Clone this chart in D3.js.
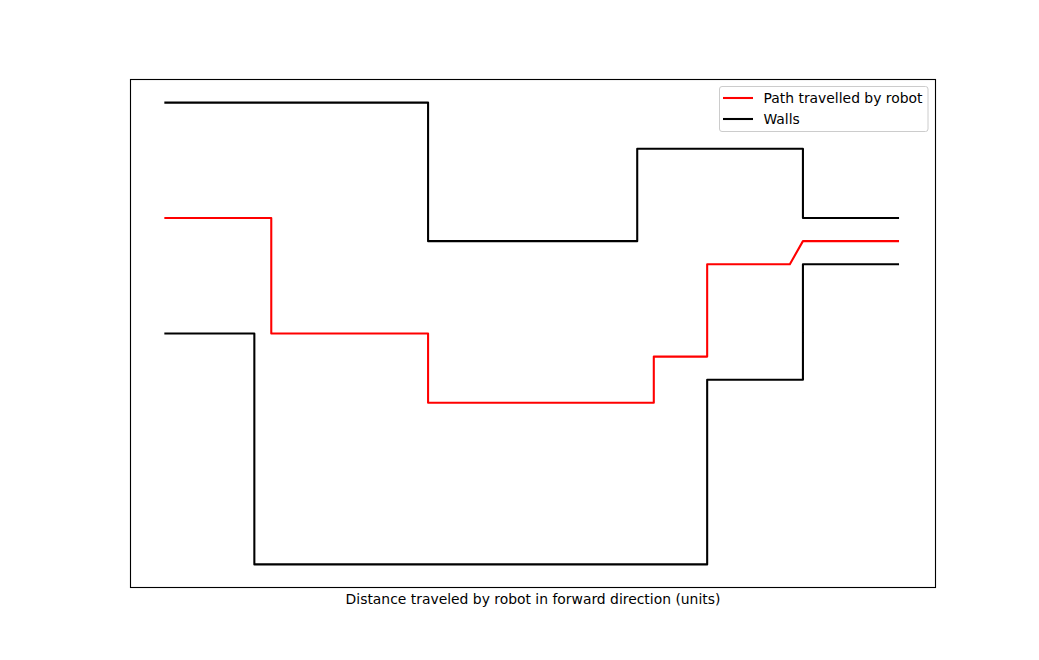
<!DOCTYPE html>
<html><head><meta charset="utf-8">
<script src="https://cdn.jsdelivr.net/npm/d3@7"></script>
<style>body{margin:0;background:#fff;} text{font-family:"DejaVu Sans",sans-serif;}</style>
</head><body>
<svg id="c" width="1039" height="660"></svg>
<script>
const pathX = [0, 6.07, 6.07, 15.06, 15.06, 28.0, 28.0, 31.06, 31.06, 35.8, 36.55, 42];
const pathY = [15, 15, 10, 10, 7, 7, 9, 9, 13, 13, 14, 14];
const topWallX = [0, 15.06, 15.06, 27.05, 27.05, 36.55, 36.55, 42];
const topWallY = [20, 20, 14, 14, 18, 18, 15, 15];
const botWallX = [0, 5.1, 5.1, 31.06, 31.06, 36.55, 36.55, 42];
const botWallY = [10, 10, 0, 0, 8, 8, 13, 13];
const legendLabels = ["Path travelled by robot", "Walls"];
const xLabel = "Distance traveled by robot in forward direction (units)";

const svg = d3.select("#c");
const L = 130.5, R = 935.5, T = 79.5, B = 587.5;
const x = d3.scaleLinear().domain([-2.0, 44.15]).range([L, R]);
const y = d3.scaleLinear().domain([-1, 21]).range([B, T]);

const line = d3.line().x(d => x(d[0])).y(d => y(d[1]));
function draw(xs, ys, color) {
  svg.append("path").datum(xs.map((v, i) => [v, ys[i]]))
    .attr("d", line).attr("fill", "none").attr("stroke", color)
    .attr("stroke-width", 2.08).attr("stroke-linejoin", "round").attr("stroke-linecap", "square");
}
draw(pathX, pathY, "#ff0000");
draw(topWallX, topWallY, "#000000");
draw(botWallX, botWallY, "#000000");

svg.append("rect").attr("x", L).attr("y", T).attr("width", R - L).attr("height", B - T)
  .attr("fill", "none").attr("stroke", "#000").attr("stroke-width", 1.11);

svg.append("text").attr("x", (L + R) / 2).attr("y", 604).attr("text-anchor", "middle")
  .attr("font-size", "13.9px").attr("fill", "#000").text(xLabel);

// legend
const lg = svg.append("g");
lg.append("rect").attr("x", 719.5).attr("y", 86.5).attr("width", 208.5).attr("height", 45)
  .attr("rx", 2.5).attr("fill", "#fff").attr("fill-opacity", 0.8).attr("stroke", "#cccccc").attr("stroke-width", 1);
const legColors = ["#ff0000", "#000000"];
legendLabels.forEach((lab, i) => {
  const yy = 98 + i * 21;
  lg.append("line").attr("x1", 723).attr("x2", 753).attr("y1", yy).attr("y2", yy)
    .attr("stroke", legColors[i]).attr("stroke-width", 2.08);
  lg.append("text").attr("x", 763.5).attr("y", yy + 5).attr("font-size", "13.9px").attr("fill", "#000").text(lab);
});
</script>
</body></html>
